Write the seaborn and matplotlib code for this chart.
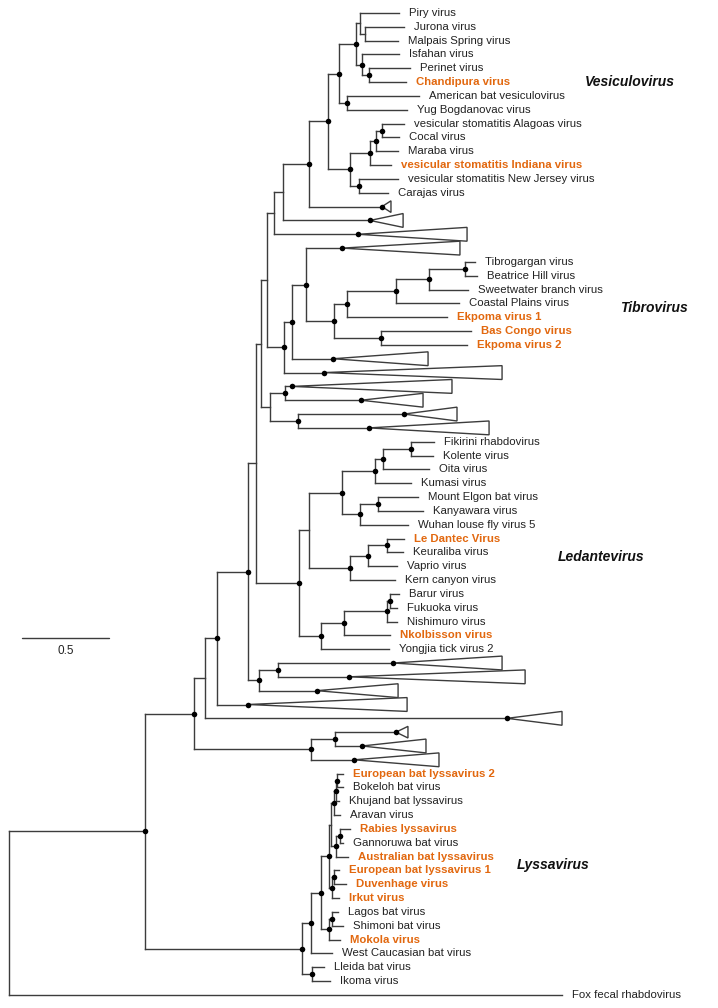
import matplotlib
matplotlib.use("Agg")
import matplotlib.pyplot as plt
from matplotlib.collections import LineCollection
from matplotlib.patches import Polygon
import pandas as pd
import seaborn as sns

sns.set_theme(style="white")
plt.rcParams["font.family"] = ["Liberation Sans", "DejaVu Sans"]

# Tips from top to bottom; "" is a collapsed clade (drawn as a triangle)
TIP_NAMES = [
    "Piry virus", "Jurona virus", "Malpais Spring virus", "Isfahan virus", "Perinet virus",
    "Chandipura virus", "American bat vesiculovirus", "Yug Bogdanovac virus",
    "vesicular stomatitis Alagoas virus", "Cocal virus", "Maraba virus",
    "vesicular stomatitis Indiana virus", "vesicular stomatitis New Jersey virus", "Carajas virus",
    "", "", "", "",
    "Tibrogargan virus", "Beatrice Hill virus", "Sweetwater branch virus", "Coastal Plains virus",
    "Ekpoma virus 1", "Bas Congo virus", "Ekpoma virus 2",
    "", "", "", "", "", "",
    "Fikirini rhabdovirus", "Kolente virus", "Oita virus", "Kumasi virus", "Mount Elgon bat virus",
    "Kanyawara virus", "Wuhan louse fly virus 5", "Le Dantec Virus", "Keuraliba virus",
    "Vaprio virus", "Kern canyon virus", "Barur virus", "Fukuoka virus", "Nishimuro virus",
    "Nkolbisson virus", "Yongjia tick virus 2",
    "", "", "", "", "", "", "", "",
    "European bat lyssavirus 2", "Bokeloh bat virus", "Khujand bat lyssavirus", "Aravan virus",
    "Rabies lyssavirus", "Gannoruwa bat virus", "Australian bat lyssavirus",
    "European bat lyssavirus 1", "Duvenhage virus", "Irkut virus", "Lagos bat virus",
    "Shimoni bat virus", "Mokola virus", "West Caucasian bat virus", "Lleida bat virus",
    "Ikoma virus", "Fox fecal rhabdovirus",
]

# distance from root (substitutions/site) of each tip, or of the collapsed clade's node
TIP_DEPTH = [
    2.250, 2.279, 2.245, 2.250, 2.314, 2.291, 2.366, 2.297, 2.279, 2.250, 2.245, 2.204, 2.245, 2.187,
    2.152, 2.083, 2.014, 1.922,
    2.689, 2.701, 2.649, 2.597, 2.527, 2.666, 2.643,
    1.870, 1.818, 1.633, 2.031, 2.279, 2.077,
    2.452, 2.447, 2.424, 2.320, 2.360, 2.389, 2.302, 2.279, 2.274, 2.239, 2.227, 2.250, 2.239,
    2.239, 2.199, 2.193,
    2.216, 1.962, 1.777, 1.379, 2.874, 2.233, 2.037, 1.991,
    1.927, 1.927, 1.904, 1.910, 1.968, 1.927, 1.956, 1.904, 1.945, 1.904, 1.898, 1.927, 1.910,
    1.864, 1.818, 1.852, 3.191,
]

HIGHLIGHT = [
    "Chandipura virus", "vesicular stomatitis Indiana virus", "Ekpoma virus 1", "Bas Congo virus",
    "Ekpoma virus 2", "Le Dantec Virus", "Nkolbisson virus", "European bat lyssavirus 2",
    "Rabies lyssavirus", "Australian bat lyssavirus", "European bat lyssavirus 1",
    "Duvenhage virus", "Irkut virus", "Mokola virus",
]

# collapsed clades: row, depth of the farthest tip, relative height
COLLAPSED_ROWS = [14, 15, 16, 17, 25, 26, 27, 28, 29, 30, 47, 48, 49, 50, 51, 52, 53, 54]
COLLAPSED_TIP = [2.204, 2.274, 2.643, 2.602, 2.418, 2.845, 2.556, 2.389, 2.585, 2.770,
                 2.845, 2.978, 2.245, 2.297, 3.191, 2.302, 2.406, 2.481]
COLLAPSED_HALF = [0.42, 0.5, 0.5, 0.5, 0.5, 0.5, 0.5, 0.5, 0.5, 0.5,
                  0.5, 0.5, 0.5, 0.5, 0.5, 0.42, 0.5, 0.5]

# internal nodes: children are tip indices (int) or node names (str)
NODE_NAMES = ["JM", "PJM", "PC", "IPC", "V1", "AY", "V2", "AC", "ACM", "ACMI", "NC", "VS", "V3",
              "V4", "V5", "V6", "TB", "TBS", "TBSC", "T1", "BE", "T2", "T3", "T4", "T5", "B1",
              "X1", "X2", "X3", "B2", "FK", "FKO", "FKOK", "MK", "MKW", "L1", "LK", "LKV", "LKVK",
              "L2", "BF", "BFN", "BFNN", "L3", "LED", "B3", "Y1", "Y2", "B4", "B5", "B6", "Z1",
              "Z2", "B7", "EB", "EBK", "EBKA", "RG", "RGA", "LF", "ED", "EDI", "LI", "LS", "LSM",
              "LL", "LW", "LI2", "LY", "B8", "ROOT"]
NODE_LEFT = [1, 0, 4, 3, "PJM", 6, "V1", 8, "AC", "ACM", 12, "ACMI", "V2",
             "V3", "V4", "V5", 18, "TB", "TBS", "TBSC", 23, "T1", 17, "T3", "T4", "V6",
             27, 29, "X1", "B1", 31, "FK", "FKO", 35, "MK", "FKOK", 38, "LK", "LKV",
             "L1", 42, "BF", "BFN", "BFNN", "L2", "B2", 47, "Y1", "B3", "B4", "B5", 52,
             "Z1", "B6", 55, "EB", "EBK", 59, "RG", "EBKA", 62, "ED", "LF", 65, "LS",
             "LI", "LL", 69, "LW", "B7", "B8"]
NODE_RIGHT = [2, "JM", 5, "PC", "IPC", 7, "AY", 9, 10, 11, 13, "NC", "VS",
              14, 15, 16, 19, 20, 21, 22, 24, "BE", "T2", 25, 26, "T5",
              28, 30, "X2", "X3", 32, 33, 34, 36, 37, "MKW", 39, 40, 41,
              "LKVK", 43, 44, 45, 46, "L3", "LED", 48, 49, "Y2", 50, 51, 53,
              54, "Z2", 56, 57, 58, 60, 61, "RGA", 63, 64, "EDI", 66, 67,
              "LSM", 68, 70, "LI2", "LY", 71]
NODE_DEPTH = [2.054, 2.025, 2.077, 2.037, 2.002, 1.950, 1.904, 2.152, 2.118, 2.083, 2.020, 1.968,
              1.841, 1.731, 1.581, 1.529, 2.631, 2.424, 2.233, 1.950, 2.147, 1.875, 1.714, 1.633,
              1.587, 1.489, 1.593, 1.668, 1.506, 1.454, 2.320, 2.158, 2.112, 2.129, 2.025, 1.922,
              2.181, 2.072, 1.968, 1.731, 2.199, 2.181, 1.933, 1.800, 1.673, 1.425, 1.552, 1.443,
              1.379, 1.200, 1.131, 1.881, 1.743, 1.068, 1.893, 1.887, 1.875, 1.910, 1.887, 1.858,
              1.875, 1.864, 1.847, 1.864, 1.847, 1.800, 1.743, 1.748, 1.691, 0.785, 0.000]
NODE_SUPPORTED = [0, 0, 1, 1, 1, 1, 1, 1, 1, 1, 1, 1, 1,
                  1, 0, 0, 1, 1, 1, 1, 1, 1, 1, 1, 1, 0,
                  1, 1, 0, 0, 1, 1, 1, 1, 1, 1, 1, 1, 1,
                  0, 1, 1, 1, 1, 1, 0, 1, 1, 1, 1, 0, 1,
                  1, 1, 1, 1, 1, 1, 1, 0, 1, 1, 1, 1, 1,
                  1, 1, 1, 1, 1, 0]

CLADE_NAMES = ["Vesiculovirus", "Tibrovirus", "Ledantevirus", "Lyssavirus"]
CLADE_ROW = [5.0, 21.3, 39.3, 61.6]
CLADE_DEPTH = [3.324, 3.526, 3.168, 2.931]

SCALE_LENGTH = 0.5

LINE_COLOR = "#3c3c3c"
ORANGE = "#E2680F"

node_idx = {name: i for i, name in enumerate(NODE_NAMES)}


def get_depth(ref):
    return TIP_DEPTH[ref] if isinstance(ref, int) else NODE_DEPTH[node_idx[ref]]


y_cache = {}


def get_y(ref):
    if isinstance(ref, int):
        return float(ref)
    if ref not in y_cache:
        i = node_idx[ref]
        y_cache[ref] = (get_y(NODE_LEFT[i]) + get_y(NODE_RIGHT[i])) / 2
    return y_cache[ref]


segments = []
for i, name in enumerate(NODE_NAMES):
    x0 = NODE_DEPTH[i]
    yl, yr = get_y(NODE_LEFT[i]), get_y(NODE_RIGHT[i])
    segments.append([(x0, yl), (x0, yr)])
    for child in (NODE_LEFT[i], NODE_RIGHT[i]):
        segments.append([(x0, get_y(child)), (get_depth(child), get_y(child))])

fig = plt.figure(figsize=(7.18, 10.08), dpi=100)
ax = fig.add_axes([0, 0, 1, 1])
ax.add_collection(LineCollection(segments, colors=LINE_COLOR, linewidths=1.0, capstyle="projecting"))

# collapsed clades
for row, tip, half in zip(COLLAPSED_ROWS, COLLAPSED_TIP, COLLAPSED_HALF):
    apex = TIP_DEPTH[row]
    tri = Polygon([(apex, row), (tip, row - half), (tip, row + half)], closed=True,
                  facecolor="white", edgecolor=LINE_COLOR, linewidth=1.0, joinstyle="miter")
    ax.add_patch(tri)

# support dots
dots = [(NODE_DEPTH[i], get_y(n)) for i, n in enumerate(NODE_NAMES) if NODE_SUPPORTED[i]]
dots += [(TIP_DEPTH[r], r) for r in COLLAPSED_ROWS]
dot_df = pd.DataFrame(dots, columns=["depth", "row"])
sns.scatterplot(data=dot_df, x="depth", y="row", color="black", s=16, linewidth=0,
                ax=ax, legend=False, zorder=4)

# tip labels
for row, name in enumerate(TIP_NAMES):
    if not name:
        continue
    hl = name in HIGHLIGHT
    ax.annotate(name, (TIP_DEPTH[row], row), xytext=(7, 0), textcoords="offset points",
                ha="left", va="center", fontsize=8.2, color=ORANGE if hl else "#222222",
                fontweight="bold" if hl else "normal")

for name, row, depth in zip(CLADE_NAMES, CLADE_ROW, CLADE_DEPTH):
    ax.text(depth, row, name, ha="left", va="center", fontsize=10, fontweight="bold",
            fontstyle="italic", color="#111111")

# scale bar
ax.plot([0.077, 0.077 + SCALE_LENGTH], [45.2, 45.2], color=LINE_COLOR, lw=1.0)
ax.text(0.077 + SCALE_LENGTH / 2, 46.1, f"{SCALE_LENGTH}", ha="center", va="center",
        fontsize=8.5, color="#222222")

ax.set_xlim(-0.052, 4.091)
ax.set_ylim(71.945, -0.940)
ax.set_axis_off()

fig.savefig("out.png", dpi=100)
